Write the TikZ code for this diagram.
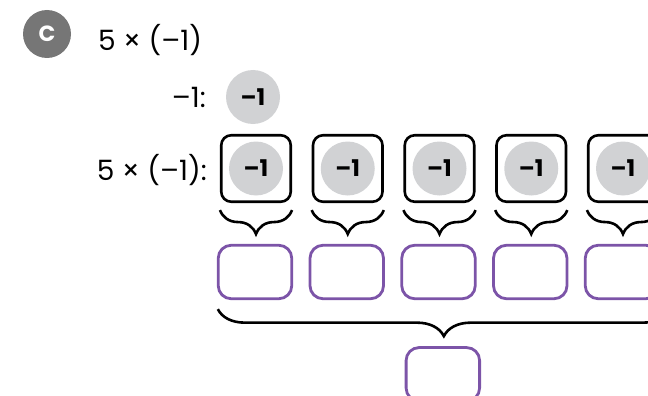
\documentclass[tikz,border=0pt]{standalone}
\usepackage{fontspec}
\setmainfont{Poppins}
\usetikzlibrary{calc,decorations.pathreplacing}
\definecolor{cchip}{RGB}{209,210,212}
\definecolor{cbadge}{RGB}{118,118,118}
\definecolor{cans}{RGB}{124,84,168}
\newcommand{\mn}{–}
\tikzset{
  chip/.style={circle,fill=cchip,draw=none,minimum size=54pt,inner sep=0pt,
    font=\fontsize{23}{24}\selectfont\bfseries},
  chipbox/.style={rectangle,rounded corners=10pt,draw=black,line width=2.6pt,
    minimum width=69.5pt,minimum height=66.5pt,inner sep=0pt},
  ansbox/.style={rectangle,rounded corners=13pt,draw=cans,line width=2.8pt,
    minimum width=73.5pt,minimum height=53.5pt,inner sep=0pt},
  expr/.style={font=\fontsize{28}{30}\selectfont,inner sep=0pt},
  brc/.style={decorate,decoration={brace,mirror,amplitude=#1},line width=2.6pt}
}
\begin{document}
\begin{tikzpicture}[x=1pt,y=-1pt]
  \useasboundingbox (0,0) rectangle (648,396);
  \clip (0,0) rectangle (648,396);
  % heading
  \node[circle,fill=cbadge,minimum size=48pt,inner sep=0pt,text=white,
    font=\fontsize{22}{22}\selectfont\bfseries] (badge) at (47,34) {C};
  \node[expr,anchor=west] (title) at (98,40) {5 × (\mn1)};
  % one chip
  \node[expr,anchor=east] (onelbl) at (206,97) {\mn1:};
  \node[chip] (one) at (253,97) {\mn1};
  % five groups of one chip
  \node[expr,anchor=east] (fivelbl) at (207,170) {5 × (\mn1):};
  \foreach \i in {1,...,5}{
    \node[chipbox] (box\i) at ({256+91.75*(\i-1)},168.5) {};
    \node[chip] (chip\i) at (box\i.center) {\mn1};
    \draw[brc=24pt] ($(box\i.south west)+(0,7)$) -- ($(box\i.south east)+(0,7)$);
    \node[ansbox] (ans\i) at ({255+91.75*(\i-1)},272) {};
  }
  % total
  \coordinate (bl) at ($(ans1.south west)+(1,9)$);
  \coordinate (br) at ($(bl)+(452,0)$);
  \draw[brc=27pt] (bl) -- (br);
  \node[ansbox,anchor=north] (total) at ($(bl)!0.5!(br)+(-1,37)$) {};
\end{tikzpicture}
\end{document}
